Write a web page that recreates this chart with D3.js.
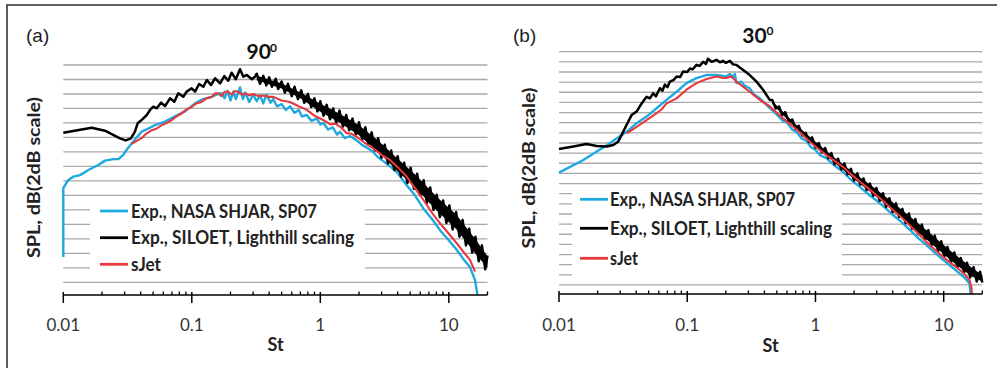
<!DOCTYPE html>
<html>
<head>
<meta charset="utf-8">
<script src="https://cdn.jsdelivr.net/npm/d3@7/dist/d3.min.js"></script>
<style>
  html, body { margin: 0; padding: 0; background: #fff; }
  svg { display: block; }
</style>
</head>
<body>
<script>
// values: [St, SPL dB] (dB relative, 2 dB per grid line)
const panelLabels = ["(a)", "(b)"];
const panelTitles = ["90", "30"];
const xTickValues = [0.01, 0.1, 1, 10];
const xTickLabels = ["0.01", "0.1", "1", "10"];
const legendLabels = ["Exp., NASA SHJAR, SP07", "Exp., SILOET, Lighthill scaling", "sJet"];
const seriesColors = ["#1fa9e1", "#000000", "#e8383d"];

const a_blue = [[0.01,3.5],[0.01,13.0],[0.0109,14.1],[0.012,14.6],[0.0135,14.8],[0.0157,15.5],[0.0187,16.2],[0.0211,16.8],
  [0.0245,17.0],[0.0268,17.0],[0.0293,17.6],[0.0311,18.3],[0.0341,19.2],[0.0372,20.0],[0.0407,20.8],[0.0432,21.0],
  [0.0517,21.7],[0.0619,22.2],[0.074,22.9],[0.0885,23.6],[0.106,24.7],[0.119,25.2],[0.143,25.6],[0.155,25.9],[0.171,26.1],
  [0.18,25.4],[0.19,26.4],[0.2,25.1],[0.21,26.3],[0.22,25.3],[0.237,26.9],[0.25,25.3],[0.26,26.2],[0.28,24.9],[0.3,25.9],
  [0.32,25.0],[0.34,25.8],[0.36,24.7],[0.38,25.9],[0.41,24.8],[0.43,25.3],[0.46,24.3],[0.5,24.6],[0.54,23.8],[0.581,24.3],
  [0.63,23.4],[0.68,23.8],[0.72,22.9],[0.784,23.1],[0.85,22.3],[0.94,22.6],[1.0,21.8],[1.055,22.0],[1.15,21.1],[1.25,21.4],
  [1.35,20.4],[1.423,20.8],[1.55,19.9],[1.7,20.2],[1.919,19.6],[2.1,19.0],[2.3,18.6],[2.582,18.0],[2.8,17.3],[3.0,16.9],
  [3.485,16.0],[4.0,15.1],[4.7,13.4],[5.5,11.9],[6.33,10.2],[7.5,8.6],[8.54,7.2],[10,5.8],[11.5,4.5],[13,3.2],[14.6,2.1],
  [16.0,0.3],[16.7,-1.75]];

const a_black = [[0.01,20.65],[0.0166,21.34],[0.0211,20.93],[0.0276,19.88],[0.0306,19.6],[0.0336,19.88],[0.0361,20.79],
  [0.0379,21.95],[0.0412,22.5],[0.0446,23.1],[0.0473,23.79],[0.0501,24.24],[0.0533,24.02],[0.0576,24.8],[0.0619,24.34],
  [0.0677,25.4],[0.0731,24.93],[0.0785,26.09],[0.0859,25.62],[0.0912,26.32],[0.0998,26.78],[0.106,26.32],[0.114,27.38],
  [0.123,27.0],[0.131,27.93],[0.141,27.24],[0.152,28.17],[0.166,27.47],[0.179,28.48],[0.192,27.83],[0.204,28.94],
  [0.22,28.03],[0.237,29.41],[0.252,28.39],[0.268,28.62],[0.293,28.03],[0.31,28.39],
  [0.32,28.8],[0.34,27.4],[0.36,28.5],[0.38,27.2],[0.40,28.3],[0.42,27.0],[0.45,28.1],[0.47,26.7],[0.50,27.7],[0.53,26.2],
  [0.56,27.4],[0.60,25.7],[0.63,27.0],[0.67,25.3],[0.71,26.5],[0.75,24.8],[0.80,26.0],[0.85,24.2],[0.90,25.4],[0.95,23.6],
  [1.0,25.0],[1.06,23.0],[1.12,24.5],[1.19,22.5],[1.26,24.0],[1.33,22.0],[1.41,23.7],[1.50,21.5],[1.59,23.1],[1.68,21.0],
  [1.78,22.6],[1.89,20.4],[2.0,22.1],[2.12,19.7],[2.24,21.4],[2.37,19.0],[2.51,20.7],[2.66,18.2],[2.82,19.9],[2.99,17.2],
  [3.17,19.0],[3.36,16.4],[3.56,18.2],[3.77,15.5],[4.0,17.4],[4.24,14.6],[4.49,16.5],[4.76,13.7],[5.05,15.8],[5.35,12.9],
  [5.67,15.0],[6.01,12.0],[6.37,14.1],[6.75,11.0],[7.16,13.1],[7.59,10.0],[8.04,12.1],[8.52,9.0],[9.03,11.3],[9.57,8.2],
  [10.1,10.6],[10.7,7.3],[11.4,9.7],[12.1,6.3],[12.8,8.6],[13.6,5.1],[14.4,7.4],[15.2,4.1],[16.1,6.3],[17.1,2.9],
  [18.1,5.1],[19.2,1.8],[20,3.7]];

// spread of the noisy SILOET spectrum: [St, low dB, high dB]
const a_blackBand = [[0.32,27.9,28.5],[0.5,26.75,27.45],[0.7,25.4,26.2],[1.0,23.55,24.65],[1.4,22.1,23.3],[2.0,20.3,21.7],
  [2.8,18.1,19.6],[4.0,15.35,17.05],[5.6,12.9,14.7],[8.0,9.95,11.85],[11.4,7.35,9.35],[16,4.0,6.0],[20,2.0,3.6]];

const a_red = [[0.0341,19.1],[0.037,19.5],[0.0407,19.9],[0.044,20.5],[0.0488,21.0],[0.053,21.2],[0.0583,21.7],[0.064,22.0],
  [0.0698,22.4],[0.076,22.9],[0.0834,23.3],[0.09,23.8],[0.0998,24.2],[0.108,24.7],[0.119,24.9],[0.13,25.4],[0.143,25.6],
  [0.152,26.1],[0.161,26.1],[0.17,25.7],[0.18,26.3],[0.192,26.3],[0.205,25.9],[0.215,26.4],[0.23,26.3],[0.245,25.9],
  [0.26,26.1],[0.28,25.8],[0.3,26.0],[0.33,25.7],[0.36,25.8],[0.4,25.6],[0.431,25.6],[0.5,25.1],[0.581,24.9],[0.68,24.3],
  [0.784,23.8],[0.9,23.0],[1.055,22.4],[1.2,21.8],[1.3,21.9],[1.423,21.5],[1.6,20.6],[1.75,20.5],[1.919,20.1],[2.2,19.3],
  [2.582,18.5],[3.0,17.6],[3.485,16.9],[4.0,15.9],[4.7,14.6],[5.5,12.9],[6.33,11.4],[7.4,9.6],[8.54,8.15],[10,6.7],
  [11.5,5.4],[13,4.2],[14.6,3.1],[16.0,1.5]];

const b_blue = [[0.01,22.15],[0.0122,23.3],[0.0155,24.65],[0.0197,26.3],[0.0242,27.75],[0.0281,28.9],[0.0337,30.2],
  [0.0403,31.9],[0.0482,33.2],[0.0577,34.85],[0.069,36.5],[0.0826,38.1],[0.0987,39.8],[0.118,40.8],[0.141,41.4],[0.169,41.4],
  [0.202,41.1],[0.215,41.6],[0.228,41.0],[0.235,41.6],[0.242,39.8],[0.265,40.1],[0.28,39.3],[0.307,38.8],[0.33,37.6],
  [0.368,36.8],[0.427,35.2],[0.5,33.6],[0.56,32.3],[0.6,32.0],[0.66,30.6],[0.71,30.2],[0.78,28.9],[0.85,28.4],[0.92,27.2],
  [1.0,26.6],[1.1,25.5],[1.216,25.0],[1.4,23.6],[1.638,22.3],[1.9,20.7],[2.21,19.4],[2.6,17.8],[2.98,16.7],[3.5,15.2],
  [4.02,13.8],[4.7,12.4],[5.42,10.9],[6.3,9.3],[7.31,7.9],[8.5,6.4],[9.84,5.0],[11.5,3.6],[13.3,2.3],[14.6,1.4],
  [15.9,0.3],[16.2,-1.75]];

const b_black = [[0.01,26.8],[0.0129,27.3],[0.0164,27.8],[0.0197,27.4],[0.0235,27.3],[0.0265,27.6],[0.029,28.3],
  [0.0308,29.6],[0.0337,31.6],[0.0368,33.5],[0.0403,34.2],[0.0441,35.8],[0.0482,37.1],[0.0511,36.8],[0.0543,37.8],
  [0.057,37.2],[0.0612,38.8],[0.064,38.3],[0.0669,39.5],[0.07,39.0],[0.0732,40.1],[0.078,40.4],[0.0826,41.1],[0.088,41.0],
  [0.0929,42.1],[0.1,42.0],[0.105,42.7],[0.11,42.5],[0.118,43.4],[0.125,43.2],[0.133,44.0],[0.14,43.6],[0.145,44.6],
  [0.155,44.0],[0.169,44.4],[0.18,43.9],[0.19,44.2],[0.2,43.8],[0.215,44.2],[0.228,43.5],[0.242,43.4],[0.273,42.4],
  [0.307,41.4],[0.347,40.1],[0.39,38.5],[0.44,36.5],
  [0.46,36.5],[0.49,34.8],[0.52,35.2],[0.55,33.5],[0.58,34.1],[0.62,32.2],[0.66,32.6],[0.70,30.8],[0.74,31.4],[0.79,29.5],
  [0.84,30.0],[0.89,28.2],[0.94,29.1],[1.0,27.1],[1.06,28.0],[1.12,26.1],[1.19,27.0],[1.26,25.0],[1.33,26.0],[1.41,23.8],
  [1.50,24.9],[1.59,22.8],[1.68,24.0],[1.78,21.8],[1.89,22.9],[2.0,20.6],[2.12,22.0],[2.24,19.8],[2.37,21.0],[2.51,18.7],
  [2.66,20.0],[2.82,17.6],[2.99,19.1],[3.17,16.6],[3.36,18.1],[3.56,15.4],[3.77,17.1],[4.0,14.4],[4.24,16.1],[4.49,13.4],
  [4.76,15.0],[5.05,12.2],[5.35,14.1],[5.67,11.1],[6.01,13.0],[6.37,10.0],[6.75,11.9],[7.16,8.9],[7.59,10.8],[8.04,7.8],
  [8.52,9.7],[9.03,6.7],[9.57,8.6],[10.1,5.6],[10.7,7.5],[11.4,4.5],[12.1,6.4],[12.8,3.5],[13.6,5.3],[14.4,2.5],
  [15.2,4.4],[16.1,1.5],[17.1,3.5],[18.1,0.7],[19.2,2.6],[20,0.5]];

const b_blackBand = [[0.46,35.7,36.3],[0.7,31.0,31.7],[1.0,27.35,28.25],[1.41,24.1,25.1],[2.0,20.9,22.1],[2.82,17.9,19.3],
  [4.0,14.7,16.3],[5.67,11.45,13.15],[8.04,8.15,9.95],[11.4,4.85,6.65],[16.1,1.85,3.65],[20,0.7,1.9]];

const b_red = [[0.0337,29.9],[0.0403,31.2],[0.0482,32.5],[0.0577,33.9],[0.063,34.6],[0.069,35.8],[0.0826,36.8],
  [0.0987,38.5],[0.118,39.8],[0.141,40.6],[0.169,41.1],[0.19,40.8],[0.202,40.8],[0.221,41.1],[0.242,40.1],[0.307,38.1],
  [0.368,36.5],[0.44,35.2],[0.55,33.0],[0.71,30.7],[0.9,28.3],[1.0,27.3],[1.216,25.6],[1.4,24.5],[1.638,23.3],[1.9,21.8],
  [2.21,20.4],[2.6,19.0],[2.98,17.75],[3.5,16.2],[4.02,14.8],[4.7,13.3],[5.42,11.8],[6.3,10.2],[7.31,8.5],[8.5,7.0],
  [9.84,5.6],[11.5,4.2],[13.3,3.0],[14.7,2.0],[15.9,1.0],[16.4,-0.3],[16.6,-1.75]];

const panels = [
  { label: panelLabels[0], title: panelTitles[0], series: [a_blue, a_black, a_red], band: a_blackBand,
    x0: 63.3, x1: 487.5, yTop: 65, yAxis: 295, yDomain: [-1.75, 30],
    labelPos: [26, 42], titlePos: [246.5, 59], supPos: [270, 51.5],
    yLabelPos: [40, 177.5], stPos: [275.5, 351], tickY: 331,
    legend: { x: 90, y: 200, w: 275, h: 75, lx0: 100, lx1: 128, tx: 131, rows: [211, 237.7, 264.3], widths: [186, 223, 30] } },
  { label: panelLabels[1], title: panelTitles[1], series: [b_blue, b_black, b_red], band: b_blackBand,
    x0: 559, x1: 982.3, yTop: 51.7, yAxis: 294, yDomain: [-1.78, 46],
    labelPos: [513, 41.5], titlePos: [742.3, 43.3], supPos: [766.5, 35],
    yLabelPos: [535, 168], stPos: [770.5, 352], tickY: 331,
    legend: { x: 572, y: 188, w: 270, h: 92, lx0: 580, lx1: 608, tx: 610, rows: [199.3, 228.3, 258.3], widths: [185, 222, 28] } }
];

const svg = d3.select("body").append("svg")
  .attr("width", 1000)
  .attr("height", 368);

// outer frame (only top and left edges show in the figure)
svg.append("path")
  .attr("d", "M7,368 L7,5 L997,5")
  .attr("fill", "none")
  .attr("stroke", "#2b2b2b")
  .attr("stroke-width", 1.5);

panels.forEach((p, pi) => {
  const x = d3.scaleLog().domain([0.01, 20]).range([p.x0, p.x1]);
  const y = d3.scaleLinear().domain(p.yDomain).range([p.yAxis, p.yTop]);
  const g = svg.append("g");

  // grid lines every 2 dB
  g.selectAll("line.grid")
    .data(d3.range(0, p.yDomain[1] + 0.01, 2))
    .join("line")
    .attr("class", "grid")
    .attr("x1", p.x0).attr("x2", p.x1)
    .attr("y1", d => y(d)).attr("y2", d => y(d))
    .attr("stroke", "#a9a9a9")
    .attr("stroke-width", 1.3);

  // white legend box hides the grid behind it
  const L = p.legend;
  g.append("rect")
    .attr("x", L.x).attr("y", L.y)
    .attr("width", L.w).attr("height", L.h)
    .attr("fill", "#fff");

  // curves
  const clipId = "clip" + pi;
  svg.append("clipPath").attr("id", clipId)
    .append("rect")
    .attr("x", p.x0 - 2).attr("y", p.yTop - 15)
    .attr("width", p.x1 - p.x0 + 4).attr("height", p.yAxis - p.yTop + 15);

  const line = d3.line()
    .x(d => x(d[0]))
    .y(d => y(Math.max(d[1], p.yDomain[0])));

  const band = d3.area()
    .x(d => x(d[0]))
    .y0(d => y(d[1]))
    .y1(d => y(d[2]));

  const plot = g.append("g").attr("clip-path", `url(#${clipId})`);
  const widths = [2.4, 2.5, 2.1];

  p.series.forEach((s, i) => {
    if (i === 1) {
      plot.append("path")
        .attr("d", band(p.band))
        .attr("fill", "#000");
    }
    plot.append("path")
      .attr("d", line(s))
      .attr("fill", "none")
      .attr("stroke", seriesColors[i])
      .attr("stroke-width", widths[i])
      .attr("stroke-linejoin", "round");
  });

  // x axis with log ticks
  g.append("line")
    .attr("x1", p.x0).attr("x2", p.x1)
    .attr("y1", p.yAxis).attr("y2", p.yAxis)
    .attr("stroke", "#000").attr("stroke-width", 1.5);

  const allTicks = x.ticks().filter(t => !xTickValues.includes(t));
  g.selectAll("line.minor")
    .data(allTicks)
    .join("line")
    .attr("class", "minor")
    .attr("x1", d => x(d)).attr("x2", d => x(d))
    .attr("y1", p.yAxis - 3.5).attr("y2", p.yAxis)
    .attr("stroke", "#000").attr("stroke-width", 1.3);

  g.selectAll("line.major")
    .data(xTickValues)
    .join("line")
    .attr("class", "major")
    .attr("x1", d => x(d)).attr("x2", d => x(d))
    .attr("y1", p.yAxis - 3).attr("y2", p.yAxis + 8)
    .attr("stroke", "#000").attr("stroke-width", 1.5);

  g.selectAll("text.tick")
    .data(xTickValues)
    .join("text")
    .attr("class", "tick")
    .attr("x", d => x(d))
    .attr("y", p.tickY)
    .attr("text-anchor", "middle")
    .attr("font-family", "Lato, 'Open Sans', sans-serif")
    .attr("font-size", 17)
    .attr("fill", "#333")
    .text((d, i) => xTickLabels[i]);

  g.append("text")
    .attr("x", p.stPos[0]).attr("y", p.stPos[1])
    .attr("text-anchor", "middle")
    .attr("font-family", "Lato, 'Open Sans', sans-serif")
    .attr("font-weight", "bold")
    .attr("font-size", 18)
    .attr("fill", "#222")
    .text("St");

  // y label
  g.append("text")
    .attr("transform", `translate(${p.yLabelPos[0]},${p.yLabelPos[1]}) rotate(-90)`)
    .attr("text-anchor", "middle")
    .attr("font-family", "Lato, 'Open Sans', sans-serif")
    .attr("font-weight", "bold")
    .attr("font-size", 16.5)
    .attr("fill", "#222")
    .attr("textLength", 161)
    .attr("lengthAdjust", "spacingAndGlyphs")
    .text("SPL, dB(2dB scale)");

  // panel letter and title with superscript
  g.append("text")
    .attr("x", p.labelPos[0]).attr("y", p.labelPos[1])
    .attr("font-family", "'Liberation Sans', Arial, sans-serif")
    .attr("font-size", 19)
    .attr("fill", "#222")
    .text(p.label);

  g.append("text")
    .attr("x", p.titlePos[0]).attr("y", p.titlePos[1])
    .attr("font-family", "Lato, 'Open Sans', sans-serif")
    .attr("font-weight", "bold")
    .attr("font-size", 21)
    .attr("fill", "#111")
    .text(p.title);
  g.append("text")
    .attr("x", p.supPos[0]).attr("y", p.supPos[1])
    .attr("font-family", "Lato, 'Open Sans', sans-serif")
    .attr("font-weight", "bold")
    .attr("font-size", 12)
    .attr("fill", "#111")
    .text("0");

  // legend entries
  const rows = g.selectAll("g.leg")
    .data(legendLabels)
    .join("g")
    .attr("class", "leg");
  rows.append("line")
    .attr("x1", L.lx0).attr("x2", L.lx1)
    .attr("y1", (d, i) => L.rows[i]).attr("y2", (d, i) => L.rows[i])
    .attr("stroke", (d, i) => seriesColors[i])
    .attr("stroke-width", 2.8);
  rows.append("text")
    .attr("x", L.tx)
    .attr("y", (d, i) => L.rows[i] + 6.5)
    .attr("font-family", "Lato, 'Open Sans', sans-serif")
    .attr("font-weight", "bold")
    .attr("font-size", 18)
    .attr("fill", "#222")
    .attr("textLength", (d, i) => L.widths[i])
    .attr("lengthAdjust", "spacingAndGlyphs")
    .text(d => d);
});
</script>
</body>
</html>
